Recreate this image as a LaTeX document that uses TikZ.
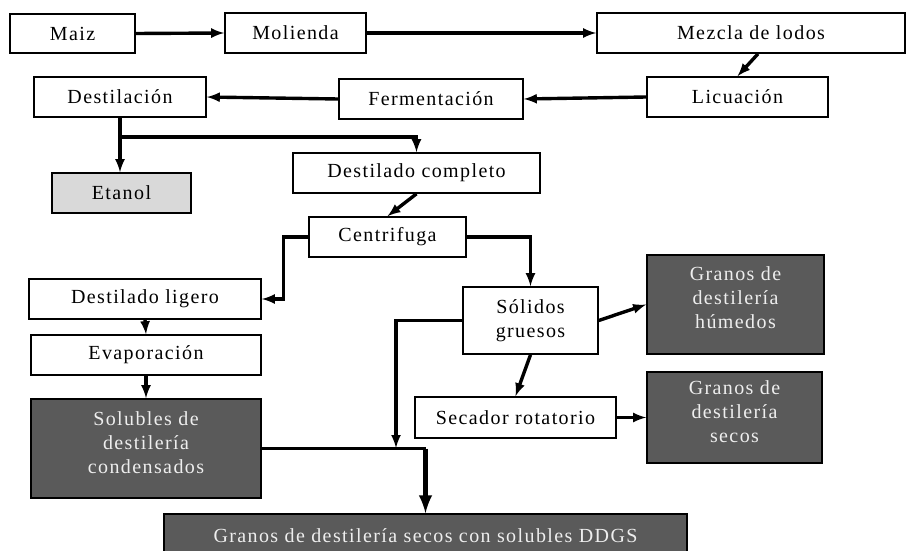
\documentclass[tikz,border=0pt]{standalone}
\usepackage{fontspec}
\setmainfont{Liberation Serif}[LetterSpace=7]
\usetikzlibrary{arrows,positioning}
\definecolor{darkbox}{RGB}{90,90,90}
\definecolor{lightbox}{RGB}{217,217,217}
\definecolor{boxtext}{RGB}{238,238,238}

\begin{document}
\begin{tikzpicture}[x=1pt,y=-1pt,
  font=\fontsize{20}{24}\selectfont,
  proc/.style={draw,line width=1.6pt,inner sep=0pt,align=center},
  dark/.style={proc,fill=darkbox},
  darktext/.style={text=boxtext,align=center,inner sep=0pt},
  flow/.style={line width=3.4pt,-latex}]
\useasboundingbox (0,0) rectangle (906,551);
\fill[white] (0,0) rectangle (906,551);

\node[proc,minimum width=125pt,minimum height=39pt] (maiz) at (72.5,33.5) {Maiz};
\node[proc,minimum width=141pt,minimum height=40pt] (molienda) at (295.5,33) {Molienda};
\node[proc,minimum width=308pt,minimum height=40pt] (mezcla) at (751,33) {Mezcla de lodos};
\node[proc,minimum width=181pt,minimum height=40pt] (licuacion) at (737.5,97) {Licuación};
\node[proc,minimum width=184pt,minimum height=40pt] (fermentacion) at (431,99) {Fermentación};
\node[proc,minimum width=172pt,minimum height=40pt] (destilacion) at (120,97) {Destilación};
\node[proc,fill=lightbox,minimum width=139pt,minimum height=40pt] (etanol) at (121.5,193) {Etanol};
\node[proc,minimum width=247pt,minimum height=40pt] (completo) at (416.5,173) {Destilado completo};
\node[proc,minimum width=157pt,minimum height=40pt] (centrifuga) at (387.5,237) {Centrifuga};
\node[proc,minimum width=232pt,minimum height=40pt] (ligero) at (145,299) {Destilado ligero};
\node[proc,minimum width=230pt,minimum height=40pt] (evaporacion) at (146,355) {Evaporación};
\node[dark,minimum width=230pt,minimum height=99pt] (solubles) at (146,448.5) {};
\node[darktext,below=13pt of solubles.north] (solublestxt) {Solubles de\\destilería\\condensados};
\node[proc,minimum width=135pt,minimum height=67pt] (solidos) at (530.5,320.5) {Sólidos\\gruesos};
\node[dark,minimum width=177pt,minimum height=99pt] (humedos) at (735.5,304.5) {};
\node[darktext,below=12pt of humedos.north] (humedostxt) {Granos de\\destilería\\húmedos};
\node[dark,minimum width=175pt,minimum height=91pt] (secos) at (734.5,417.5) {};
\node[darktext,below=9pt of secos.north] (secostxt) {Granos de\\destilería\\secos};
\node[proc,minimum width=201pt,minimum height=41pt] (secador) at (515.5,417.5) {Secador rotatorio};
\node[dark,minimum width=523pt,minimum height=44pt] (ddgs) at (425.5,536) {};
\node[darktext] (ddgstxt) at (425.5,536) {Granos de destilería secos con solubles DDGS};

\draw[flow] (maiz.east) -- (molienda.west);
\draw[flow] (molienda.east) -- (mezcla.west);
\draw[flow] ([xshift=7pt]mezcla.south) -- (licuacion.north);
\draw[flow] (licuacion.west) -- (fermentacion.east);
\draw[flow] (fermentacion.west) -- (destilacion.east);
\coordinate[below=19pt of destilacion.south] (split);
\draw[flow] (destilacion.south) -- (destilacion.south |- etanol.north);
\draw[flow] (split) -| (completo.north);
\draw[flow] (completo.south) -- (centrifuga.north);
\draw[flow] (centrifuga.west) -- ++(-25,0) |- (ligero.east);
\draw[flow] (centrifuga.east) -| (solidos.north);
\draw[flow] (solidos.east) -- (humedos.west);
\draw[flow] (solidos.south) -- (secador.north);
\draw[flow] (secador.east) -- (secos.west);
\draw[flow] (ligero.south) -- (evaporacion.north);
\draw[flow] (evaporacion.south) -- (solubles.north);
\coordinate (join) at (396,448);
\draw[flow] (solidos.west) -| (join);
\coordinate (merge) at (ddgs.north |- solubles.east);
\draw[line width=3.4pt] (solubles.east) -- (merge);
\draw[flow,line width=5pt] (merge) -- (ddgs.north);
\end{tikzpicture}
\end{document}
